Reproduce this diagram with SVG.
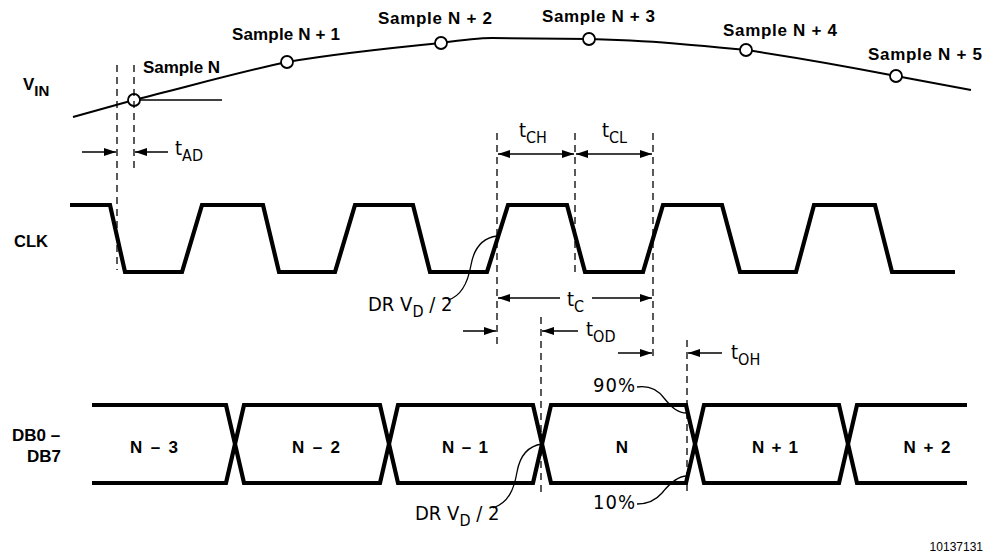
<svg xmlns="http://www.w3.org/2000/svg" width="986" height="554" viewBox="0 0 986 554">
<defs>
<marker id="ah" markerUnits="userSpaceOnUse" markerWidth="12" markerHeight="8" refX="12" refY="4" orient="auto-start-reverse">
<path d="M0,0 L12,4 L0,8 Z" fill="#000"/>
</marker>
<style>
.bold{font-family:"Liberation Sans",Arial,sans-serif;font-weight:bold;font-size:17px;fill:#000}
.lt{font-family:"Liberation Sans Narrow","DejaVu Sans Condensed","Liberation Sans",sans-serif;font-size:20px;fill:#000}
.sub{font-size:16px}
.dash{stroke:#000;stroke-width:1.3;stroke-dasharray:7,5;fill:none}
.arr{stroke:#000;stroke-width:1.5;fill:none}
.wave{stroke:#000;stroke-width:4.2;fill:none;stroke-linejoin:miter}
.thin{stroke:#000;stroke-width:1.3;fill:none}
.smp{fill:#fff;stroke:#000;stroke-width:1.8}
</style>
</defs>
<rect width="986" height="554" fill="#fff"/>

<g id="vin">
<path d="M73,117 L134,100 C190,86 240,72 287,62 C340,53 390,48 441,43 C462,40 476,38 492,38 L589,39 C620,40 650,41 680,44 C705,46 725,48 746,50 C800,58 850,67 896,76 L971,90" stroke="#000" stroke-width="2" fill="none"/>
<line x1="134" y1="100" x2="222" y2="100" stroke="#000" stroke-width="1.5"/>
<circle class="smp" cx="134" cy="100" r="6"/>
<circle class="smp" cx="287" cy="62" r="6"/>
<circle class="smp" cx="441" cy="43" r="6"/>
<circle class="smp" cx="589" cy="39" r="6"/>
<circle class="smp" cx="746" cy="50" r="6"/>
<circle class="smp" cx="896" cy="76" r="6"/>
<text class="bold" x="23" y="90" font-size="18">V<tspan font-size="15" dy="6">IN</tspan></text>
<text class="bold" x="143" y="73" textLength="77" lengthAdjust="spacing">Sample N</text>
<text class="bold" x="232" y="40" textLength="108" lengthAdjust="spacing">Sample N + 1</text>
<text class="bold" x="378" y="24" textLength="114" lengthAdjust="spacing">Sample N + 2</text>
<text class="bold" x="542" y="22" textLength="113" lengthAdjust="spacing">Sample N + 3</text>
<text class="bold" x="723" y="36" textLength="114" lengthAdjust="spacing">Sample N + 4</text>
<text class="bold" x="868" y="60" textLength="114" lengthAdjust="spacing">Sample N + 5</text>
</g>

<g id="clk">
<text class="bold" x="14" y="247" font-size="18" textLength="34" lengthAdjust="spacingAndGlyphs">CLK</text>
<path class="wave" d="M70,205 L110,205 L125,272 L182,272 L202,205 L263,205 L279,272 L335,272 L355,205 L413,205 L430,272 L487,272 L508,205 L567,205 L585,272 L643,272 L663,205 L722,205 L740,272 L796,272 L814,205 L875,205 L892,272 L955,272"/>
</g>

<g id="data">
<text class="bold" x="12" y="441" font-size="18">DB0 –</text>
<text class="bold" x="27" y="462" font-size="18">DB7</text>
<path class="wave" d="M92,405 H226 L244,483 H380 L398,405 H533 L551,483 H686 L704,405 H839 L857,483 H967"/>
<path class="wave" d="M92,483 H226 L244,405 H380 L398,483 H533 L551,405 H686 L704,483 H839 L857,405 H967"/>
<text class="bold" x="154" y="453" text-anchor="middle" textLength="48" lengthAdjust="spacing">N – 3</text>
<text class="bold" x="316" y="453" text-anchor="middle" textLength="48" lengthAdjust="spacing">N – 2</text>
<text class="bold" x="465" y="453" text-anchor="middle" textLength="46" lengthAdjust="spacing">N – 1</text>
<text class="bold" x="622" y="453" text-anchor="middle">N</text>
<text class="bold" x="775" y="453" text-anchor="middle" textLength="46" lengthAdjust="spacing">N + 1</text>
<text class="bold" x="927" y="453" text-anchor="middle" textLength="47" lengthAdjust="spacing">N + 2</text>
</g>

<g id="connectors">
<line class="dash" x1="117" y1="65" x2="117" y2="270"/>
<line class="dash" x1="134" y1="65" x2="134" y2="168"/>
<line class="dash" x1="497" y1="133" x2="497" y2="345"/>
<line class="dash" x1="575" y1="133" x2="575" y2="272"/>
<line class="dash" x1="653" y1="133" x2="653" y2="360"/>
<line class="dash" x1="541" y1="317" x2="541" y2="492"/>
<line class="dash" x1="687" y1="340" x2="687" y2="492"/>

<line class="arr" x1="82" y1="152" x2="116" y2="152" marker-end="url(#ah)"/>
<line class="arr" x1="168" y1="152" x2="135" y2="152" marker-end="url(#ah)"/>
<line class="arr" x1="498" y1="154" x2="574" y2="154" marker-start="url(#ah)" marker-end="url(#ah)"/>
<line class="arr" x1="576" y1="154" x2="652" y2="154" marker-start="url(#ah)" marker-end="url(#ah)"/>
<line class="arr" x1="498" y1="298" x2="560" y2="298" marker-start="url(#ah)"/>
<line class="arr" x1="592" y1="298" x2="652" y2="298" marker-end="url(#ah)"/>
<line class="arr" x1="463" y1="331" x2="496" y2="331" marker-end="url(#ah)"/>
<line class="arr" x1="578" y1="331" x2="542" y2="331" marker-end="url(#ah)"/>
<line class="arr" x1="618" y1="353" x2="652" y2="353" marker-end="url(#ah)"/>
<line class="arr" x1="722" y1="353" x2="688" y2="353" marker-end="url(#ah)"/>

<path class="thin" d="M448,300 C462,296 468,282 471,265 C474,248 482,238 497,236"/>
<path class="thin" d="M493,508 C508,503 514,490 517,472 C520,455 528,446 542,444"/>
<path class="thin" d="M637,387 C650,385 658,390 664,398 C672,408 678,413 687,413"/>
<path class="thin" d="M637,504 C648,504 656,500 662,493 C670,483 678,476 687,476"/>

<text class="lt" x="175" y="155">t<tspan class="sub" dy="6">AD</tspan></text>
<text class="lt" x="519" y="137">t<tspan class="sub" dy="6">CH</tspan></text>
<text class="lt" x="602" y="137">t<tspan class="sub" dy="6">CL</tspan></text>
<text class="lt" x="567" y="306">t<tspan class="sub" dy="6">C</tspan></text>
<text class="lt" x="586" y="336">t<tspan class="sub" dy="6">OD</tspan></text>
<text class="lt" x="731" y="359">t<tspan class="sub" dy="6">OH</tspan></text>
<text class="lt" x="368" y="311">DR  V<tspan class="sub" dy="6">D</tspan><tspan dy="-6"> / 2</tspan></text>
<text class="lt" x="415" y="520">DR  V<tspan class="sub" dy="6">D</tspan><tspan dy="-6"> / 2</tspan></text>
<text class="lt" x="593" y="392" font-size="18" letter-spacing="1">90%</text>
<text class="lt" x="593" y="509" font-size="18" letter-spacing="1">10%</text>
<text x="983" y="551" text-anchor="end" font-family="Liberation Sans, Arial, sans-serif" font-size="12">10137131</text>
</g>
</svg>
